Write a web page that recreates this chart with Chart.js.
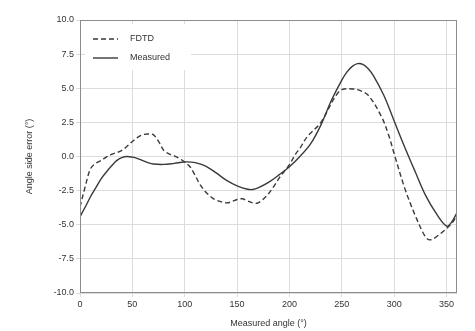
<!DOCTYPE html>
<html>
<head>
<meta charset="utf-8">
<script src="https://cdn.jsdelivr.net/npm/chart.js@4.4.0/dist/chart.umd.min.js"></script>
<style>
  html, body { margin: 0; padding: 0; background: #fff; }
  #wrap { width: 475px; height: 331px; }
</style>
</head>
<body>
<div id="wrap"><canvas id="myChart" width="475" height="331"></canvas></div>
<script>
// angle (deg) / error (deg)
const measuredAngle = [0, 5, 10, 15, 20, 25, 30, 35, 40, 45, 50, 55, 60, 65, 70, 80, 90, 100, 110, 120, 130, 140, 150, 160, 165, 170, 180, 190, 200, 210, 220, 230, 240, 250, 255, 260, 265, 270, 275, 280, 290, 300, 310, 320, 330, 340, 350, 355, 360];
const measuredErr = [-4.4, -3.7, -2.95, -2.3, -1.65, -1.15, -0.7, -0.3, -0.08, 0.0, -0.05, -0.15, -0.3, -0.45, -0.55, -0.58, -0.5, -0.4, -0.45, -0.7, -1.2, -1.75, -2.15, -2.4, -2.42, -2.3, -1.9, -1.35, -0.75, 0.0, 0.9, 2.3, 4.1, 5.6, 6.2, 6.6, 6.8, 6.75, 6.45, 5.95, 4.5, 2.6, 0.7, -1.1, -2.85, -4.15, -5.1, -4.8, -4.1];

const fdtdAngle = [0, 5, 10, 15, 20, 25, 30, 40, 50, 55, 60, 65, 70, 75, 80, 85, 90, 95, 100, 105, 110, 115, 120, 125, 130, 140, 145, 150, 155, 160, 165, 170, 178, 185, 190, 195, 200, 206, 210, 217, 230, 243, 250, 260, 265, 275, 288, 295, 300, 310, 320, 330, 335, 345, 355, 360];
const fdtdErr = [-3.7, -2.2, -0.9, -0.5, -0.3, -0.05, 0.15, 0.45, 1.1, 1.4, 1.6, 1.65, 1.6, 1.1, 0.45, 0.2, 0.05, -0.15, -0.4, -0.75, -1.4, -2.1, -2.6, -2.95, -3.2, -3.4, -3.3, -3.15, -3.1, -3.25, -3.4, -3.4, -2.9, -2.2, -1.6, -1.1, -0.6, 0.2, 0.6, 1.45, 2.5, 4.3, 4.9, 4.95, 4.9, 4.5, 2.9, 1.5, 0.2, -2.3, -4.3, -5.9, -6.1, -5.6, -4.9, -4.3];

const xTicks = [0, 50, 100, 150, 200, 250, 300, 350];
const yTicks = [-10, -7.5, -5, -2.5, 0, 2.5, 5, 7.5, 10];

const lineColor = '#3a3a3a';
const font = { family: 'Liberation Sans, Arial, sans-serif', size: 9 };

function toPoints(xs, ys) {
  return xs.map((x, i) => ({ x: x, y: ys[i] }));
}

// legend drawn inside the plot, top left (matplotlib style)
const innerLegend = {
  id: 'innerLegend',
  afterDatasetsDraw(chart) {
    const ctx = chart.ctx;
    const area = chart.chartArea;
    const x0 = area.left + 5;
    const y0 = area.top + 4;
    ctx.save();
    ctx.fillStyle = '#fff';
    ctx.fillRect(x0, y0, 106, 46);
    ctx.font = '9px ' + font.family;
    ctx.textBaseline = 'middle';
    chart.data.datasets.forEach((ds, i) => {
      const y = y0 + 15 + i * 19;
      ctx.strokeStyle = ds.borderColor;
      ctx.lineWidth = ds.borderWidth;
      ctx.setLineDash(ds.borderDash || []);
      ctx.beginPath();
      ctx.moveTo(x0 + 8, y);
      ctx.lineTo(x0 + 33, y);
      ctx.stroke();
      ctx.setLineDash([]);
      ctx.fillStyle = '#333';
      ctx.fillText(ds.label, x0 + 45, y);
    });
    ctx.restore();
  }
};

// dark frame round the plot area
const frame = {
  id: 'frame',
  afterDraw(chart) {
    const a = chart.chartArea;
    const ctx = chart.ctx;
    ctx.save();
    ctx.strokeStyle = '#8c8c8c';
    ctx.lineWidth = 1;
    ctx.strokeRect(a.left + 0.5, a.top + 0.5, a.right - a.left - 1, a.bottom - a.top - 1);
    ctx.restore();
  }
};

const ctx = document.getElementById('myChart').getContext('2d');
new Chart(ctx, {
  type: 'line',
  data: {
    datasets: [{
      label: 'FDTD',
      data: toPoints(fdtdAngle, fdtdErr),
      borderColor: lineColor,
      borderWidth: 1.4,
      borderDash: [5, 3],
      pointRadius: 0,
      tension: 0.35,
      fill: false
    }, {
      label: 'Measured',
      data: toPoints(measuredAngle, measuredErr),
      borderColor: lineColor,
      borderWidth: 1.4,
      pointRadius: 0,
      tension: 0.35,
      fill: false
    }]
  },
  options: {
    responsive: false,
    animation: false,
    layout: { padding: { left: 0, right: 18, top: 20, bottom: 0 } },
    plugins: {
      legend: { display: false },
      tooltip: { enabled: false }
    },
    scales: {
      x: {
        type: 'linear',
        min: 0,
        max: 360,
        afterBuildTicks: (scale) => { scale.ticks = xTicks.map(v => ({ value: v })); },
        afterFit: (scale) => { scale.height = 38; },
        ticks: { font: font, color: '#333', padding: 2, maxRotation: 0 },
        grid: { color: '#dcdcdc', tickLength: 4 },
        border: { display: false },
        title: { display: true, text: 'Measured angle (°)', font: font, color: '#333', padding: { top: 0, bottom: 2 } }
      },
      y: {
        min: -10,
        max: 10,
        afterBuildTicks: (scale) => { scale.ticks = yTicks.map(v => ({ value: v })); },
        afterFit: (scale) => { scale.width = 80; },
        ticks: { font: font, color: '#333', padding: 2, callback: (v) => v.toFixed(1) },
        grid: { color: '#dcdcdc', tickLength: 4 },
        border: { display: false },
        title: { display: true, text: 'Angle side error (°)', font: font, color: '#333', padding: { top: 24, bottom: 0 } }
      }
    }
  },
  plugins: [innerLegend, frame]
});
</script>
</body>
</html>
